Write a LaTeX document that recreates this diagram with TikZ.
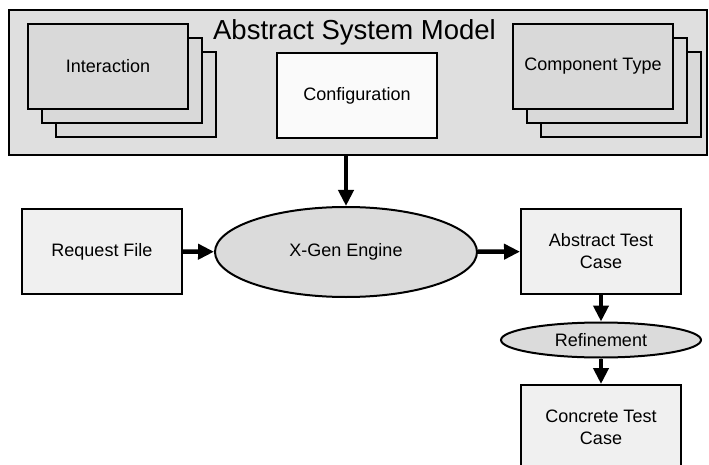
\documentclass[tikz,border=0pt]{standalone}
\usepackage{fontspec}
\setmainfont{Liberation Sans}
\usetikzlibrary{shapes.geometric,arrows.meta}
\tikzset{
	box/.style={draw, line width=2pt, fill=gray!12, minimum width=160pt, minimum height=85pt, align=center, font=\fontsize{18}{22}\selectfont},
	card/.style={box, fill=gray!30},
	engine/.style={ellipse, draw, line width=2pt, fill=gray!28, inner sep=1pt, font=\fontsize{18}{22}\selectfont},
	flow/.style={line width=4.5pt, -{Triangle[length=16pt,width=15pt]}}
}
\begin{document}
\begin{tikzpicture}[x=1pt, y=-1pt]
		\path[use as bounding box, clip] (0,0) rectangle (709,465);
		\node[draw, line width=2pt, fill=gray!25, minimum width=698pt, minimum height=145pt] (model) at (358,82.5) {};
		\node[font=\fontsize{27.5}{32}\selectfont] (title) at (354.5,32) {Abstract System Model};
		\foreach \d in {28, 14}
		{
			\node[card] at (108+\d, 66.5+\d) {};
			\node[card] at (593+\d, 66.5+\d) {};
		}
		\node[card] (interaction) at (108,66.5) {Interaction};
		\node[card] (comptype) at (593,66.5) {Component Type};
		\node[box, fill=gray!4] (config) at (357,96) {Configuration};
		\node[box] (request) at (102,251.5) {Request File};
		\node[engine, minimum width=262pt, minimum height=90pt] (xgen) at (346,252) {X-Gen Engine};
		\node[box] (abstract) at (601,251.5) {Abstract Test\\Case};
		\node[engine, minimum width=200pt, minimum height=35pt] (refine) at (601,340) {Refinement};
		\node[box] (concrete) at (601,427.5) {Concrete Test\\Case};
		\draw[flow] (xgen.north |- model.south) -- (xgen.north);
		\draw[flow] (request) -- (xgen);
		\draw[flow] (xgen) -- (abstract);
		\draw[flow] (abstract) -- (refine);
		\draw[flow] (refine) -- (concrete);
	\end{tikzpicture}
\end{document}
